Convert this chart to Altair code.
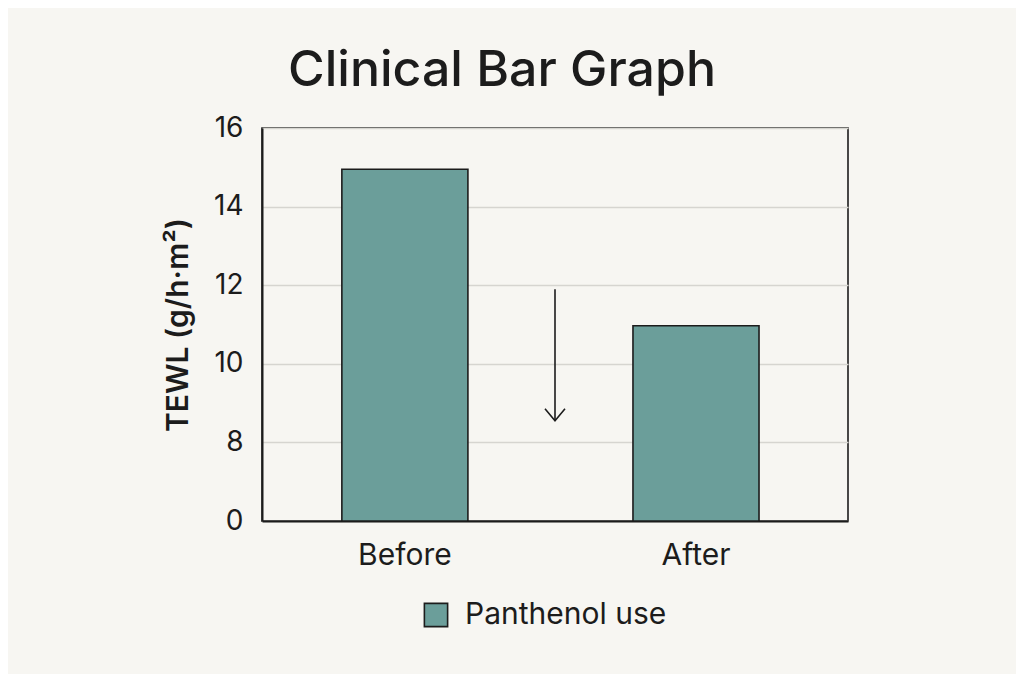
import altair as alt
import pandas as pd

categories = ["Before", "After"]
tewl_values = [14.95, 10.97]
series_name = ["Panthenol use", "Panthenol use"]
y_ticks = [6, 8, 10, 12, 14, 16]
arrow_x = [0.5]
arrow_top = [11.9]
arrow_bottom = [8.55]

bars_df = pd.DataFrame({"phase": categories, "tewl": tewl_values, "series": series_name})
arrow_df = pd.DataFrame({"ax": arrow_x, "top": arrow_top, "bottom": arrow_bottom})

FONT = "Inter"
INK = "#1c1c1c"
yscale = alt.Scale(domain=[6, 16], nice=False, zero=False)

bars = alt.Chart(bars_df).mark_bar(stroke=INK, strokeWidth=1.6).encode(
    x=alt.X("phase:N", sort=categories,
            scale=alt.Scale(paddingInner=0.567, paddingOuter=0.29, align=0.473),
            axis=alt.Axis(title=None, labelAngle=0, labelFontSize=30, labelColor=INK,
                          labelPadding=19, labelFont=FONT, domainColor=INK, domainWidth=2,
                          ticks=False)),
    y=alt.Y("tewl:Q", scale=yscale,
            axis=alt.Axis(values=y_ticks, labelExpr="datum.value == 6 ? '0' : datum.label",
                          title="TEWL (g/h·m²)", titleFontSize=30, titleFont=FONT,
                          titleFontWeight=600, titleColor=INK, titlePadding=20,
                          labelFontSize=28, labelFont=FONT, labelColor=INK, labelPadding=19,
                          ticks=False, domainColor=INK, domainWidth=2,
                          grid=True, gridColor="#d6d5d0", gridWidth=1.5)),
    y2=alt.datum(6),
    color=alt.Color("series:N", scale=alt.Scale(range=["#6b9e9a"]),
                    legend=alt.Legend(title=None, orient="none", legendX=159, legendY=472,
                                      symbolType="square", symbolSize=540,
                                      symbolStrokeColor=INK, symbolStrokeWidth=1.6,
                                      labelFontSize=30, labelFont=FONT, labelColor=INK,
                                      labelOffset=14, labelLimit=0)),
)

xq = alt.X("ax:Q", scale=alt.Scale(domain=[0, 1]), axis=None)

arrow_line = alt.Chart(arrow_df).mark_rule(color=INK, strokeWidth=1.6).encode(
    x=xq,
    y=alt.Y("top:Q", scale=yscale),
    y2="bottom:Q",
)

arrow_head = alt.Chart(arrow_df).mark_point(
    shape="M-1,-1.2L0,0L1,-1.2", filled=False, stroke=INK, strokeWidth=1.6,
    size=400, opacity=1
).encode(
    x=xq,
    y=alt.Y("bottom:Q", scale=yscale),
)

chart = alt.layer(bars, arrow_line, arrow_head).resolve_scale(x="independent").properties(
    width=586, height=393,
    title=alt.TitleParams("Clinical Bar Graph", fontSize=50, font=FONT, fontWeight=500,
                          color=INK, anchor="middle", dx=-53, offset=18),
    autosize=alt.AutoSizeParams(type="none"),
    padding={"left": 254, "top": 120, "right": 168, "bottom": 153},
    background="#f7f6f2",
).configure_view(stroke=INK, strokeWidth=1.6)

chart.save("out.html", embed_options={"renderer": "svg", "actions": False})
